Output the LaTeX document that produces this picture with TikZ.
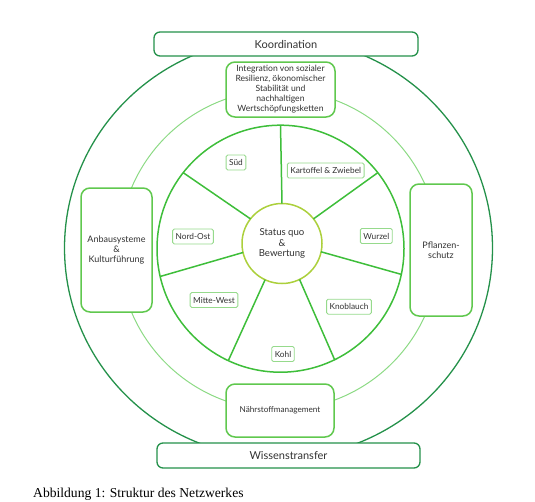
\documentclass[tikz,border=0pt]{standalone}
\usepackage{fontspec}
\setmainfont{Liberation Serif}
\newfontfamily\diagfont{Lato}
\usetikzlibrary{positioning}

\definecolor{ringdark}{RGB}{36,145,74}
\definecolor{ringlight}{RGB}{140,218,132}
\definecolor{ringmid}{RGB}{62,190,58}
\definecolor{statusgreen}{RGB}{172,208,60}
\definecolor{boxgreen}{RGB}{96,200,78}
\definecolor{labelgreen}{RGB}{150,218,140}
\definecolor{textgray}{RGB}{50,50,50}

\tikzset{
  bandbox/.style={draw=ringdark, line width=1.3pt, rounded corners=6pt, fill=white,
    text=textgray, font=\diagfont\fontsize{11}{13}\selectfont},
  topicbox/.style={draw=boxgreen, line width=1.5pt, rounded corners=9pt, fill=white,
    text=textgray, align=center, inner sep=0pt, font=\diagfont\fontsize{8.6}{10}\selectfont},
  seglabel/.style={draw=labelgreen, line width=0.9pt, rounded corners=1.5pt, fill=white,
    text=textgray, inner xsep=3pt, minimum height=15pt, font=\diagfont\fontsize{8.3}{9}\selectfont}
}

\begin{document}
\begin{tikzpicture}[x=1pt, y=-1pt]
  \useasboundingbox (0,0) rectangle (535,501);

  % Rings
  \draw[ringdark, line width=1.3pt] (278.5,248) ellipse [x radius=214, y radius=210];
  \draw[ringlight, line width=1pt] (279,250) circle [radius=160];
  \node[circle, draw=ringmid, line width=1.5pt, minimum size=247pt, inner sep=0pt, outer sep=0pt] (ring) at (280.5,248.7) {};

  % Centre
  \node[circle, draw=statusgreen, line width=1.5pt, fill=white, minimum size=80pt, inner sep=0pt, outer sep=0pt,
    align=center, text=textgray, font=\diagfont\fontsize{9.6}{10.8}\selectfont] (status) at (282,243.5)
    {Status quo\\\&\\Bewertung};

  % Spokes
  \foreach \k in {0,...,6} {
    \pgfmathsetmacro{\ang}{90-\k*360/7}
    \draw[ringmid, line width=1.5pt] (status.\ang) -- (ring.\ang);
  }

  % Segment labels
  \foreach \name/\x/\y/\txt in {sued/236/162.5/{Süd}, kartoffel/325.7/170.5/{Kartoffel \& Zwiebel},
      wurzel/376.3/236/{Wurzel}, knoblauch/349/306.7/{Knoblauch}, kohl/283/354/{Kohl},
      mittewest/214/300/{Mitte-West}, nordost/193/236.5/{Nord-Ost}} {
    \node[seglabel] (\name) at (\x,\y) {\txt};
  }

  % Topic boxes
  \node[topicbox, minimum width=109pt, minimum height=55pt] (integration) at (280.5,89.5)
    {Integration von sozialer\\Resilienz, ökonomischer\\Stabilität und\\nachhaltigen\\Wertschöpfungsketten};
  \node[topicbox, minimum width=108pt, minimum height=53pt, font=\diagfont\fontsize{8.2}{10}\selectfont] (naehrstoff) at (280,410.5)
    {Nährstoffmanagement};
  \node[topicbox, minimum width=71pt, minimum height=124pt, font=\diagfont\fontsize{9}{10}\selectfont] (anbau) at (116.5,250)
    {Anbausysteme\\\&\\Kulturführung};
  \node[topicbox, minimum width=62pt, minimum height=132pt, font=\diagfont\fontsize{9}{10.5}\selectfont] (pflanzen) at (441,250)
    {Pflanzen-\\schutz};

  % Bands
  \node[bandbox, minimum width=264pt, minimum height=24pt] (koordination) at (286,44) {Koordination};
  \node[bandbox, minimum width=263pt, minimum height=25pt] (wissen) at (288.5,455.5) {Wissenstransfer};

  % Caption
  \node[font=\fontsize{13.6}{15}\selectfont, anchor=west, inner sep=0pt] (caption) at (33,494)
    {Abbildung 1: Struktur des Netzwerkes};
\end{tikzpicture}
\end{document}
